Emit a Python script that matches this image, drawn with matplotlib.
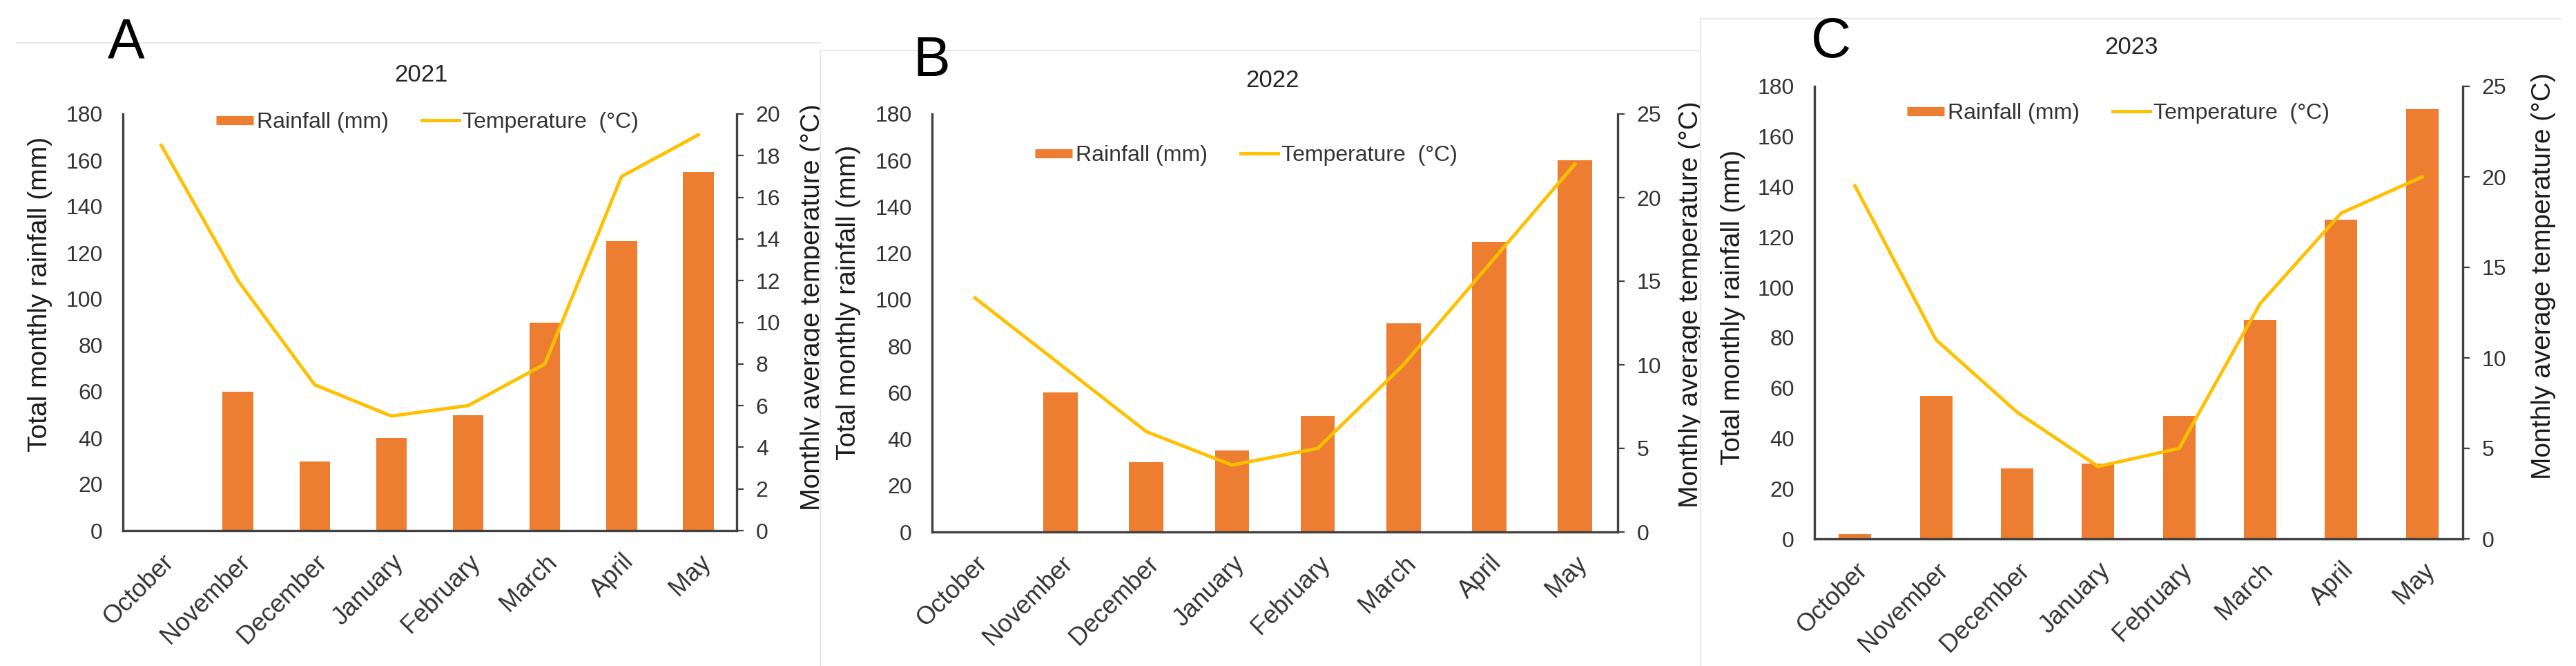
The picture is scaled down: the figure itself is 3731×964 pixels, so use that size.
import matplotlib.pyplot as plt
from matplotlib.lines import Line2D
from matplotlib.patches import Rectangle
import numpy as np

plt.rcParams['font.family'] = ['Liberation Sans', 'DejaVu Sans']

months = ['October', 'November', 'December', 'January', 'February', 'March', 'April', 'May']

rain_2021 = [0, 60, 30, 40, 50, 90, 125, 155]
temp_2021 = [18.5, 12, 7, 5.5, 6, 8, 17, 19]

rain_2022 = [0, 60, 30, 35, 50, 90, 125, 160]
temp_2022 = [14, 10, 6, 4, 5, 10, 16, 22]

rain_2023 = [2, 57, 28, 30, 49, 87, 127, 171]
temp_2023 = [19.5, 11, 7, 4, 5, 13, 18, 20]

rain_ticks = np.arange(0, 181, 20)
temp_ticks_a = np.arange(0, 21, 2)
temp_ticks_bc = np.arange(0, 26, 5)

BAR = '#ED7D31'
LINE = '#FFC000'
SPINE = '#404040'
TICK = '#333333'
FRAME = '#e8e8e8'

W, H = 3731, 964


def fx(px):
    return px / W


def fy(py):
    return 1 - py / H


fig = plt.figure(figsize=(W / 100, H / 100), dpi=100)
fig.patch.set_facecolor('white')

# panel layout in pixels (not data)
panels = [
    dict(letter='A', year='2021', rain=rain_2021, temp=temp_2021, tticks=temp_ticks_a,
         box=(178, 165, 1067, 768), z=1.0, letter_xy=(183, 62), title_xy=(610, 108),
         leg_xy=(619, 177), lab_l=(58, 426), lab_r=(1177, 445)),
    dict(letter='B', year='2022', rain=rain_2022, temp=temp_2022, tticks=temp_ticks_bc,
         box=(1350, 165, 2343, 770), z=2.0, letter_xy=(1349, 89), title_xy=(1843, 117),
         leg_xy=(1805, 225), lab_l=(1229, 438), lab_r=(2449, 441)),
    dict(letter='C', year='2023', rain=rain_2023, temp=temp_2023, tticks=temp_ticks_bc,
         box=(2628, 125, 3567, 780), z=3.0, letter_xy=(2652, 62), title_xy=(3087, 69),
         leg_xy=(3068, 164), lab_l=(2510, 445), lab_r=(3684, 400)),
]

# white backgrounds of the pasted panels B and C, with faint frame lines
fig.add_artist(Line2D([fx(24), fx(1188)], [fy(62), fy(62)], transform=fig.transFigure,
                      color=FRAME, lw=1.5, zorder=0.9))
fig.add_artist(Rectangle((fx(1188), 0), fx(2463) - fx(1188), fy(73), transform=fig.transFigure,
                         facecolor='white', edgecolor='none', zorder=1.9))
fig.add_artist(Line2D([fx(1188), fx(2463)], [fy(73), fy(73)], transform=fig.transFigure,
                      color=FRAME, lw=1.5, zorder=1.95))
fig.add_artist(Line2D([fx(1188), fx(1188)], [0, fy(73)], transform=fig.transFigure,
                      color=FRAME, lw=1.5, zorder=1.95))
fig.add_artist(Rectangle((fx(2463), 0), 1 - fx(2463), fy(27), transform=fig.transFigure,
                         facecolor='white', edgecolor='none', zorder=2.9))
fig.add_artist(Line2D([fx(2463), fx(3708)], [fy(27), fy(27)], transform=fig.transFigure,
                      color=FRAME, lw=1.5, zorder=2.95))
fig.add_artist(Line2D([fx(2463), fx(2463)], [0, fy(27)], transform=fig.transFigure,
                      color=FRAME, lw=1.5, zorder=2.95))

x = np.arange(len(months))

for p in panels:
    l, t, r, b = p['box']
    z = p['z']
    ax = fig.add_axes([fx(l), fy(b), fx(r) - fx(l), fy(t) - fy(b)])
    ax.set_zorder(z)
    ax.patch.set_facecolor('none')
    ax2 = ax.twinx()
    ax2.set_zorder(z + 0.05)

    ax.bar(x, p['rain'], width=0.4, color=BAR, zorder=2)
    ax2.plot(x, p['temp'], color=LINE, lw=3.5, solid_joinstyle='round')

    ax.set_xlim(-0.5, len(months) - 0.5)
    ax.set_ylim(0, 180)
    ax.set_yticks(rain_ticks)
    ax2.set_ylim(0, p['tticks'][-1])
    ax2.set_yticks(p['tticks'])

    ax.set_xticks(x)
    ax.set_xticklabels(months, rotation=45, ha='right', rotation_mode='anchor',
                       fontsize=26, color=TICK)
    ax.tick_params(axis='x', length=0, pad=20)
    ax.tick_params(axis='y', length=0, pad=21, labelsize=23, labelcolor=TICK)
    ax2.tick_params(axis='y', length=7, width=1.6, color=SPINE, pad=13,
                    labelsize=23, labelcolor=TICK)

    for s in ['top', 'right']:
        ax.spines[s].set_visible(False)
    for s in ['top', 'left', 'bottom']:
        ax2.spines[s].set_visible(False)
    for s in ['left', 'bottom']:
        ax.spines[s].set_color(SPINE)
        ax.spines[s].set_linewidth(2.4)
    ax2.spines['right'].set_color(SPINE)
    ax2.spines['right'].set_linewidth(2.4)

    handles = [Line2D([], [], color=BAR, lw=9.5, solid_capstyle='butt'),
               Line2D([], [], color=LINE, lw=3.5)]
    lx, ly = p['leg_xy']
    leg = ax2.legend(handles, ['Rainfall (mm)', 'Temperature  (°C)'], ncol=2,
                     loc='center', bbox_to_anchor=(fx(lx), fy(ly)),
                     bbox_transform=fig.transFigure, frameon=False, fontsize=23,
                     handlelength=1.7, handletextpad=0.15, columnspacing=1.5,
                     borderpad=0, borderaxespad=0)
    for txt in leg.get_texts():
        txt.set_color(TICK)

    fig.text(fx(p['lab_l'][0]), fy(p['lab_l'][1]), 'Total monthly rainfall (mm)',
             rotation=90, ha='center', va='center', fontsize=28, color='#1a1a1a',
             zorder=z + 0.1)
    fig.text(fx(p['lab_r'][0]), fy(p['lab_r'][1]), 'Monthly average temperature (°C)',
             rotation=90, ha='center', va='center', fontsize=28, color='#1a1a1a',
             zorder=z + 0.1)
    fig.text(fx(p['title_xy'][0]), fy(p['title_xy'][1]), p['year'],
             ha='center', va='center', fontsize=25, color='#262626', zorder=z + 0.1)
    fig.text(fx(p['letter_xy'][0]), fy(p['letter_xy'][1]), p['letter'],
             ha='center', va='center', fontsize=58, color='black', zorder=z + 0.1)

fig.savefig('out.png', dpi=100, facecolor='white')
